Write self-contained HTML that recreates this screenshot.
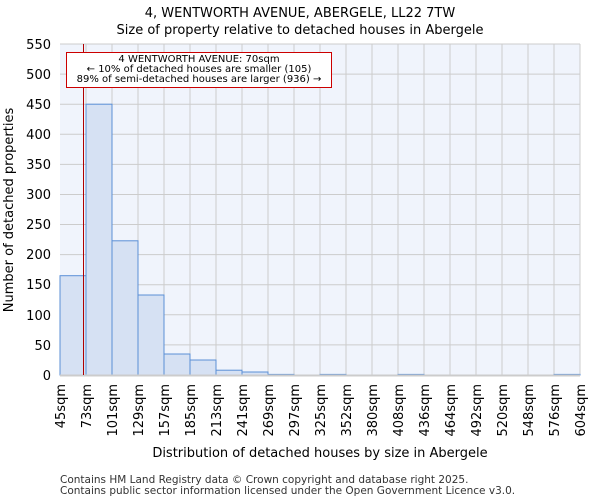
<!DOCTYPE html>
<html><head><meta charset="utf-8"><style>body{margin:0;background:#fff}svg{display:block;font-family:"DejaVu Sans","Liberation Sans",sans-serif}</style></head><body>
<svg width="600" height="500" xmlns="http://www.w3.org/2000/svg">
<text x="300" y="17" text-anchor="middle" font-size="13">4, WENTWORTH AVENUE, ABERGELE, LL22 7TW</text>
<text x="300" y="34" text-anchor="middle" font-size="13">Size of property relative to detached houses in Abergele</text>
<rect x="60" y="44" width="520" height="331" fill="#f0f4fc"/>
<g stroke="#cccccc" stroke-width="1">
<line x1="60" x2="580" y1="44" y2="44"/><line x1="60" x2="580" y1="74.1" y2="74.1"/><line x1="60" x2="580" y1="104.2" y2="104.2"/><line x1="60" x2="580" y1="134.3" y2="134.3"/><line x1="60" x2="580" y1="164.4" y2="164.4"/><line x1="60" x2="580" y1="194.5" y2="194.5"/><line x1="60" x2="580" y1="224.5" y2="224.5"/><line x1="60" x2="580" y1="254.6" y2="254.6"/><line x1="60" x2="580" y1="284.7" y2="284.7"/><line x1="60" x2="580" y1="314.8" y2="314.8"/><line x1="60" x2="580" y1="344.9" y2="344.9"/>
<line x1="86" x2="86" y1="44" y2="375"/><line x1="112" x2="112" y1="44" y2="375"/><line x1="138" x2="138" y1="44" y2="375"/><line x1="164" x2="164" y1="44" y2="375"/><line x1="190" x2="190" y1="44" y2="375"/><line x1="216" x2="216" y1="44" y2="375"/><line x1="242" x2="242" y1="44" y2="375"/><line x1="268" x2="268" y1="44" y2="375"/><line x1="294" x2="294" y1="44" y2="375"/><line x1="320" x2="320" y1="44" y2="375"/><line x1="346" x2="346" y1="44" y2="375"/><line x1="372" x2="372" y1="44" y2="375"/><line x1="398" x2="398" y1="44" y2="375"/><line x1="424" x2="424" y1="44" y2="375"/><line x1="450" x2="450" y1="44" y2="375"/><line x1="476" x2="476" y1="44" y2="375"/><line x1="502" x2="502" y1="44" y2="375"/><line x1="528" x2="528" y1="44" y2="375"/><line x1="554" x2="554" y1="44" y2="375"/><line x1="580" x2="580" y1="44" y2="375"/>
</g>
<g fill="#d6e1f3" stroke="#5b8fd6" stroke-width="1">
<rect x="60" y="275.7" width="26" height="99.3"/>
<rect x="86" y="104.2" width="26" height="270.8"/>
<rect x="112" y="240.8" width="26" height="134.2"/>
<rect x="138" y="295" width="26" height="80"/>
<rect x="164" y="354" width="26" height="21"/>
<rect x="190" y="360" width="26" height="15"/>
<rect x="216" y="370.2" width="26" height="4.8"/>
<rect x="242" y="372" width="26" height="3"/>
<rect x="268" y="374.4" width="26" height="0.6"/>
<rect x="320" y="374.4" width="26" height="0.6"/>
<rect x="398" y="374.4" width="26" height="0.6"/>
<rect x="554" y="374.4" width="26" height="0.6"/>
</g>
<line x1="60" x2="580" y1="375.5" y2="375.5" stroke="#ccc" stroke-width="2"/>
<line x1="83.5" x2="83.5" y1="44" y2="375" stroke="#b00000" stroke-width="1"/>
<rect x="66.5" y="52.5" width="265" height="35" fill="#fff" stroke="#cc0000" stroke-width="1"/>
<g font-size="10" text-anchor="middle"><text x="199" y="62">4 WENTWORTH AVENUE: 70sqm</text><text x="199" y="72">← 10% of detached houses are smaller (105)</text><text x="199" y="82">89% of semi-detached houses are larger (936) →</text></g>
<g font-size="13" text-anchor="end">
<text x="51" y="380">0</text><text x="51" y="350">50</text><text x="51" y="320">100</text><text x="51" y="289">150</text><text x="51" y="259">200</text><text x="51" y="229">250</text><text x="51" y="199">300</text><text x="51" y="169">350</text><text x="51" y="139">400</text><text x="51" y="109">450</text><text x="51" y="79">500</text><text x="51" y="49">550</text>
</g>
<text transform="translate(13,210) rotate(-90)" text-anchor="middle" font-size="13">Number of detached properties</text>
<g font-size="13" text-anchor="end">
<text transform="translate(65,384) rotate(-90)">45sqm</text><text transform="translate(91,384) rotate(-90)">73sqm</text><text transform="translate(117,384) rotate(-90)">101sqm</text><text transform="translate(143,384) rotate(-90)">129sqm</text><text transform="translate(169,384) rotate(-90)">157sqm</text><text transform="translate(195,384) rotate(-90)">185sqm</text><text transform="translate(221,384) rotate(-90)">213sqm</text><text transform="translate(247,384) rotate(-90)">241sqm</text><text transform="translate(273,384) rotate(-90)">269sqm</text><text transform="translate(299,384) rotate(-90)">297sqm</text><text transform="translate(325,384) rotate(-90)">325sqm</text><text transform="translate(351,384) rotate(-90)">352sqm</text><text transform="translate(377,384) rotate(-90)">380sqm</text><text transform="translate(403,384) rotate(-90)">408sqm</text><text transform="translate(429,384) rotate(-90)">436sqm</text><text transform="translate(455,384) rotate(-90)">464sqm</text><text transform="translate(481,384) rotate(-90)">492sqm</text><text transform="translate(507,384) rotate(-90)">520sqm</text><text transform="translate(533,384) rotate(-90)">548sqm</text><text transform="translate(559,384) rotate(-90)">576sqm</text><text transform="translate(585,384) rotate(-90)">604sqm</text>
</g>
<text x="320" y="457" text-anchor="middle" font-size="13">Distribution of detached houses by size in Abergele</text>
<text x="60" y="483" font-size="10.5" fill="#333">Contains HM Land Registry data © Crown copyright and database right 2025.</text>
<text x="60" y="494" font-size="10.5" fill="#333">Contains public sector information licensed under the Open Government Licence v3.0.</text>
</svg>
</body></html>
